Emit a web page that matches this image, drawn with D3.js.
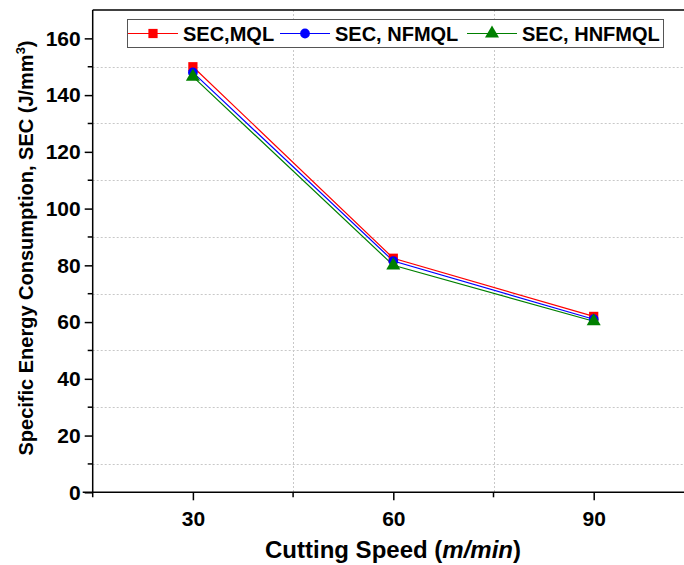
<!DOCTYPE html>
<html><head><meta charset="utf-8">
<script src="https://cdn.jsdelivr.net/npm/d3@7"></script>
<style>body{margin:0;background:#fff}svg{display:block;font-family:"Liberation Sans",Arial,sans-serif}</style>
</head><body>
<svg id="c" width="684" height="565"></svg>
<script>
const speeds = [30, 60, 90];
const secMQL = [150, 82.5, 62];
const secNFMQL = [148, 81.5, 61];
const secHNFMQL = [146.5, 80, 60.3];
const seriesNames = ["SEC,MQL", "SEC, NFMQL", "SEC, HNFMQL"];
const seriesColors = ["#ff0000", "#0000ff", "#008000"];
const xMajorTicks = [30, 60, 90];
const xMinorTicks = [45, 75];
const yMajorTicks = [0, 20, 40, 60, 80, 100, 120, 140, 160];
const yMinorTicks = [10, 30, 50, 70, 90, 110, 130, 150];

const svg = d3.select("#c");
const L = 92.7, T = 10, B = 492.3;
const x = d3.scaleLinear().domain([15, 105]).range([L, L + 90 * 6.68]);
const y = d3.scaleLinear().domain([0, 170]).range([B, T]);

// grid (dotted, at minor ticks)
const grid = svg.append("g").attr("stroke", "#c8c8c8").attr("stroke-width", 1).attr("stroke-dasharray", "2,2");
yMinorTicks.forEach(v => grid.append("line").attr("x1", L).attr("x2", 684).attr("y1", Math.round(y(v)) + 0.5).attr("y2", Math.round(y(v)) + 0.5));
xMinorTicks.forEach(v => grid.append("line").attr("y1", T).attr("y2", B).attr("x1", Math.round(x(v)) + 0.5).attr("x2", Math.round(x(v)) + 0.5));

// frame top
svg.append("line").attr("x1", L).attr("x2", 684).attr("y1", T).attr("y2", T).attr("stroke", "#000").attr("stroke-width", 1.5);

// axes
const xAxis = svg.append("g").attr("transform", `translate(0,${B})`)
  .call(d3.axisBottom(x).tickValues(xMajorTicks).tickSize(8).tickSizeOuter(0).tickPadding(11));
xAxis.append("g").selectAll("line").data(xMinorTicks).join("line")
  .attr("x1", d => x(d)).attr("x2", d => x(d)).attr("y1", 0).attr("y2", 5).attr("stroke", "#000").attr("stroke-width", 1.5);
xAxis.select(".domain").attr("d", `M${L - 10},0H700`);
const yAxis = svg.append("g").attr("transform", `translate(${L},0)`)
  .call(d3.axisLeft(y).tickValues(yMajorTicks).tickSize(8).tickSizeOuter(0).tickPadding(4));
yAxis.append("g").selectAll("line").data(yMinorTicks).join("line")
  .attr("y1", d => y(d)).attr("y2", d => y(d)).attr("x1", 0).attr("x2", -5).attr("stroke", "#000").attr("stroke-width", 1.5);
yAxis.select(".domain").attr("d", `M0,${B + 5}V${T}`);
[xAxis, yAxis].forEach(a => {
  a.selectAll(".domain,.tick line").attr("stroke", "#000").attr("stroke-width", 1.5);
  a.selectAll("text").attr("font-size", 21).attr("font-weight", "bold").attr("fill", "#000")
   .attr("font-family", '"Liberation Sans",Arial,sans-serif');
});

// series
const allSeries = [secMQL, secNFMQL, secHNFMQL];
const line = d3.line().x((d, i) => x(speeds[i])).y(d => y(d));
const sym = [d3.symbolSquare, d3.symbolCircle, d3.symbolTriangle];
const symSize = [85, 75, 85];
allSeries.forEach((s, k) => {
  svg.append("path").datum(s).attr("d", line).attr("fill", "none").attr("stroke", seriesColors[k]).attr("stroke-width", 1.2);
});
allSeries.forEach((s, k) => {
  svg.append("g").selectAll("path").data(s).join("path")
    .attr("transform", (d, i) => `translate(${x(speeds[i])},${y(d)})`)
    .attr("d", d3.symbol(sym[k], symSize[k])).attr("fill", seriesColors[k]);
});

// legend
const lg = svg.append("g");
lg.append("rect").attr("x", 127.5).attr("y", 19.5).attr("width", 536).attr("height", 28)
  .attr("fill", "#fff").attr("stroke", "#555").attr("stroke-width", 1);
const lx = [128, 280, 467];
seriesNames.forEach((n, k) => {
  lg.append("line").attr("x1", lx[k]).attr("x2", lx[k] + 50).attr("y1", 33.5).attr("y2", 33.5).attr("stroke", seriesColors[k]).attr("stroke-width", 1);
  lg.append("path").attr("transform", `translate(${lx[k] + 25},33.5)`).attr("d", d3.symbol(sym[k], symSize[k])).attr("fill", seriesColors[k]);
  lg.append("text").attr("x", lx[k] + 55).attr("y", 40.5).text(n)
    .attr("font-size", 20).attr("font-weight", "bold").attr("fill", "#000");
});

// axis titles
const xt = svg.append("text").attr("x", 393).attr("y", 558).attr("text-anchor", "middle")
  .attr("font-size", 24).attr("font-weight", "bold").attr("fill", "#000");
xt.append("tspan").text("Cutting Speed (");
xt.append("tspan").attr("font-style", "italic").text("m/min");
xt.append("tspan").text(")");

const yt = svg.append("text").attr("transform", "translate(33,248) rotate(-90)").attr("text-anchor", "middle")
  .attr("font-size", 20).attr("font-weight", "bold").attr("fill", "#000");
yt.append("tspan").text("Specific Energy Consumption, SEC (J/mm");
yt.append("tspan").attr("font-size", 13).attr("dy", -8).text("3");
yt.append("tspan").attr("dy", 8).text(")");
</script>
</body></html>
